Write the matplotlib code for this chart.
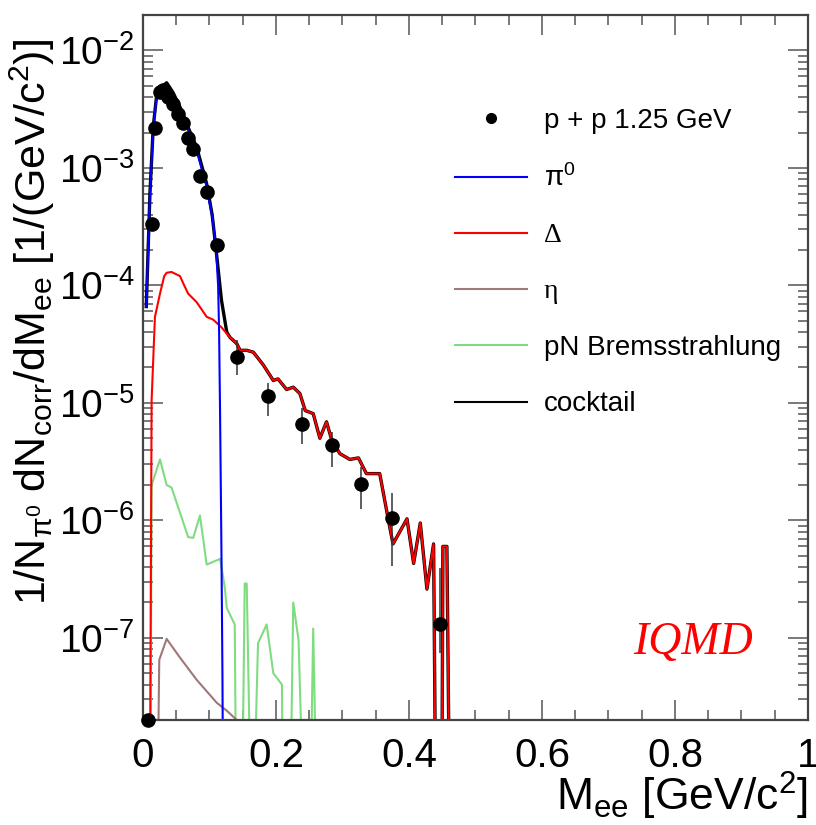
import matplotlib
matplotlib.use("Agg")
import matplotlib.pyplot as plt
from matplotlib.ticker import MultipleLocator, LogLocator, FuncFormatter, NullFormatter
from matplotlib.lines import Line2D

plt.rcParams["font.family"] = ["Liberation Sans", "DejaVu Sans"]
plt.rcParams["mathtext.fontset"] = "custom"
plt.rcParams["mathtext.rm"] = "Liberation Sans"
plt.rcParams["mathtext.it"] = "Liberation Sans:italic"
plt.rcParams["mathtext.default"] = "regular"
plt.rcParams["axes.unicode_minus"] = False

data_x = [0.007, 0.013, 0.018, 0.0256, 0.0305, 0.038, 0.0456, 0.053, 0.0606, 0.068,
          0.0756, 0.0857, 0.0958, 0.112, 0.141, 0.188, 0.239, 0.284, 0.328, 0.374, 0.447]
data_y = [2.0e-8, 3.3e-4, 2.2e-3, 4.4e-3, 4.6e-3, 4.0e-3, 3.5e-3, 2.9e-3, 2.4e-3, 1.8e-3,
          1.46e-3, 8.5e-4, 6.2e-4, 2.2e-4, 2.45e-5, 1.14e-5, 6.6e-6, 4.4e-6, 2.05e-6, 1.05e-6, 1.3e-7]
data_hi = [2.0e-8, 3.3e-4, 2.2e-3, 4.4e-3, 4.6e-3, 4.0e-3, 3.5e-3, 2.9e-3, 2.4e-3, 1.8e-3,
           1.46e-3, 8.5e-4, 6.2e-4, 2.2e-4, 3.4e-5, 1.47e-5, 9.0e-6, 5.65e-6, 2.85e-6, 1.7e-6, 3.9e-7]
data_lo = [2.0e-8, 3.3e-4, 2.2e-3, 4.4e-3, 4.6e-3, 4.0e-3, 3.5e-3, 2.9e-3, 2.4e-3, 1.8e-3,
           1.46e-3, 8.5e-4, 6.2e-4, 2.2e-4, 1.71e-5, 7.7e-6, 4.5e-6, 2.85e-6, 1.26e-6, 4.1e-7, 7.4e-8]

# --- IQMD cocktail components ---
pi0_x = [0.005, 0.0105, 0.0155, 0.0205, 0.03, 0.0356, 0.045, 0.0556, 0.068, 0.0807,
         0.0958, 0.105, 0.110, 0.113, 0.1145, 0.116, 0.118, 0.1195, 0.121]
pi0_y = [6.6e-5, 6.0e-4, 2.2e-3, 4.0e-3, 4.9e-3, 5.1e-3, 4.2e-3, 3.1e-3, 2.1e-3, 1.4e-3,
         6.9e-4, 3.6e-4, 2.0e-4, 1.0e-4, 4.0e-5, 7.6e-6, 5.5e-7, 5.0e-8, 1e-9]

delta_x = [0.010, 0.013, 0.018, 0.0256, 0.032, 0.0356, 0.043, 0.0556, 0.062, 0.068,
           0.0807, 0.0958, 0.1057, 0.118, 0.131, 0.141, 0.146, 0.156, 0.166, 0.181,
           0.196, 0.203, 0.216, 0.226, 0.236, 0.244, 0.256, 0.266, 0.276, 0.284,
           0.296, 0.311, 0.324, 0.336, 0.356, 0.371, 0.376, 0.397, 0.407, 0.417,
           0.427, 0.437, 0.441, 0.449, 0.451, 0.457, 0.462]
delta_y = [1e-9, 1.05e-5, 5.4e-5, 8.5e-5, 1.2e-4, 1.28e-4, 1.3e-4, 1.2e-4, 1.0e-4, 8.5e-5,
           7.2e-5, 5.4e-5, 5.1e-5, 4.4e-5, 3.6e-5, 3.2e-5, 2.8e-5, 2.8e-5, 2.7e-5, 2.1e-5,
           1.55e-5, 1.6e-5, 1.3e-5, 1.36e-5, 1.2e-5, 8.6e-6, 8.1e-6, 5.0e-6, 6.9e-6, 4.8e-6,
           3.7e-6, 3.3e-6, 3.4e-6, 2.5e-6, 2.5e-6, 8.8e-7, 6.3e-7, 1.03e-6, 4.3e-7, 9.5e-7,
           2.6e-7, 6.3e-7, 1e-9, 1e-9, 6.0e-7, 6.0e-7, 1e-9]

eta_x = [0.0205, 0.0245, 0.0356, 0.0556, 0.0807, 0.111, 0.126, 0.141, 0.145]
eta_y = [1e-9, 6.5e-8, 9.8e-8, 6.8e-8, 4.4e-8, 2.8e-8, 2.4e-8, 2.0e-8, 1e-9]

brems_x = [0.011, 0.013, 0.0256, 0.0356, 0.043, 0.068, 0.0756, 0.0857, 0.0958, 0.116,
           0.123, 0.126, 0.138, 0.141, 0.148, 0.153, 0.156, 0.164, 0.173, 0.186,
           0.196, 0.209, 0.211, 0.220, 0.226, 0.234, 0.244, 0.250, 0.256, 0.263]
brems_y = [1e-9, 2.0e-6, 3.3e-6, 2.0e-6, 1.9e-6, 7.2e-7, 7.1e-7, 1.1e-6, 4.2e-7, 4.7e-7,
           2.7e-7, 1.8e-7, 1.3e-7, 1e-9, 1e-9, 2.9e-7, 2.9e-7, 1e-9, 9e-8, 1.3e-7,
           5e-8, 4e-8, 1e-9, 1e-9, 2.0e-7, 9.5e-8, 1e-9, 1e-9, 1.2e-7, 1e-9]

cocktail_x = [0.005, 0.0105, 0.0155, 0.0205, 0.03, 0.0356, 0.045, 0.0556, 0.068, 0.0807,
              0.0958, 0.104, 0.110, 0.118, 0.126, 0.131, 0.141, 0.146, 0.156, 0.166,
              0.181, 0.196, 0.203, 0.216, 0.226, 0.236, 0.244, 0.256, 0.266, 0.276,
              0.284, 0.296, 0.311, 0.324, 0.336, 0.356, 0.371, 0.376, 0.397, 0.407,
              0.417, 0.427, 0.437, 0.441, 0.449, 0.451, 0.457, 0.462]
cocktail_y = [6.6e-5, 6.1e-4, 2.25e-3, 4.1e-3, 5.0e-3, 5.3e-3, 4.4e-3, 3.3e-3, 2.2e-3, 1.5e-3,
              7.3e-4, 4.0e-4, 2.0e-4, 7.5e-5, 4.0e-5, 3.6e-5, 3.2e-5, 2.8e-5, 2.8e-5, 2.7e-5,
              2.1e-5, 1.55e-5, 1.6e-5, 1.3e-5, 1.36e-5, 1.2e-5, 8.6e-6, 8.1e-6, 5.0e-6, 6.9e-6,
              4.8e-6, 3.7e-6, 3.3e-6, 3.4e-6, 2.5e-6, 2.5e-6, 8.8e-7, 6.3e-7, 1.03e-6, 4.3e-7,
              9.5e-7, 2.6e-7, 6.3e-7, 1e-9, 1e-9, 6.0e-7, 6.0e-7, 1e-9]

labels = ["p + p 1.25 GeV", r"$\pi^{0}$", "Δ", "η", "pN Bremsstrahlung", "cocktail"]
colors = ["black", "#0000ff", "#ff0000", "#a07878", "#80dc80", "black"]

fig = plt.figure(figsize=(8.16, 8.25), dpi=100)
ax = fig.add_axes([0.1752, 0.1273, 0.815, 0.8545])
ax.set_yscale("log")

ax.plot(cocktail_x, cocktail_y, color=colors[5], lw=2.4)
ax.plot(brems_x, brems_y, color=colors[4], lw=1.5)
ax.plot(eta_x, eta_y, color=colors[3], lw=1.5)
ax.plot(delta_x, delta_y, color=colors[2], lw=1.5)
ax.plot(pi0_x, pi0_y, color=colors[1], lw=1.5)

yerr = [[y - lo for y, lo in zip(data_y, data_lo)], [hi - y for y, hi in zip(data_y, data_hi)]]
ax.errorbar(data_x, data_y, yerr=yerr, fmt="o", color="black", ecolor="#333333",
            elinewidth=1.1, ms=9.5, capsize=0, clip_on=False, zorder=5)

ax.set_xlim(0, 1)
ax.set_ylim(2.0e-8, 2.0e-2)

ax.xaxis.set_major_locator(MultipleLocator(0.2))
ax.xaxis.set_minor_locator(MultipleLocator(0.05))
ax.xaxis.set_major_formatter(FuncFormatter(lambda v, p: "%g" % v))
ax.yaxis.set_major_locator(LogLocator(base=10, numticks=12))
ax.yaxis.set_minor_locator(LogLocator(base=10, subs=range(2, 10), numticks=12))
ax.yaxis.set_minor_formatter(NullFormatter())

ax.tick_params(which="both", direction="in", top=True, right=True, color="#555555", width=1.1)
ax.tick_params(which="major", length=14.5)
ax.tick_params(which="minor", length=7.2)
ax.tick_params(axis="x", which="major", labelsize=29, pad=12)
ax.tick_params(axis="y", which="major", labelsize=28, pad=6)
for s in ax.spines.values():
    s.set_linewidth(1.6)
    s.set_color("#444444")

ax.set_ylabel(r"$1/N_{\pi^{0}}\ dN_{corr}/dM_{ee}\ [1/(GeV/c^{2})]$", fontsize=31)
ax.yaxis.label.set_va("center")
ax.yaxis.set_label_coords(-0.167, 0.565)
ax.set_xlabel(r"$M_{ee}\ [GeV/c^{2}]$", fontsize=32, ha="right")
ax.xaxis.label.set_va("baseline")
ax.xaxis.set_label_coords(1.0, -0.128)

handles = [Line2D([], [], marker="o", ls="none", color="black", ms=7)]
handles += [Line2D([], [], color=c, lw=1.5) for c in colors[1:]]
leg = ax.legend(handles, labels, loc="upper left", bbox_to_anchor=(455 / 816, 1 - 108 / 825),
                bbox_transform=fig.transFigure, frameon=False, fontsize=20, borderpad=0,
                borderaxespad=0, handlelength=2.6, handletextpad=0.6, labelspacing=1.1)
for t in leg.get_texts()[2:4]:
    t.set_fontfamily("Liberation Serif")

ax.text(0.827, 0.109, "IQMD", transform=ax.transAxes, color="red", fontsize=33,
        style="italic", family="Liberation Serif", ha="center", va="center")

fig.savefig("out.png", dpi=100)
